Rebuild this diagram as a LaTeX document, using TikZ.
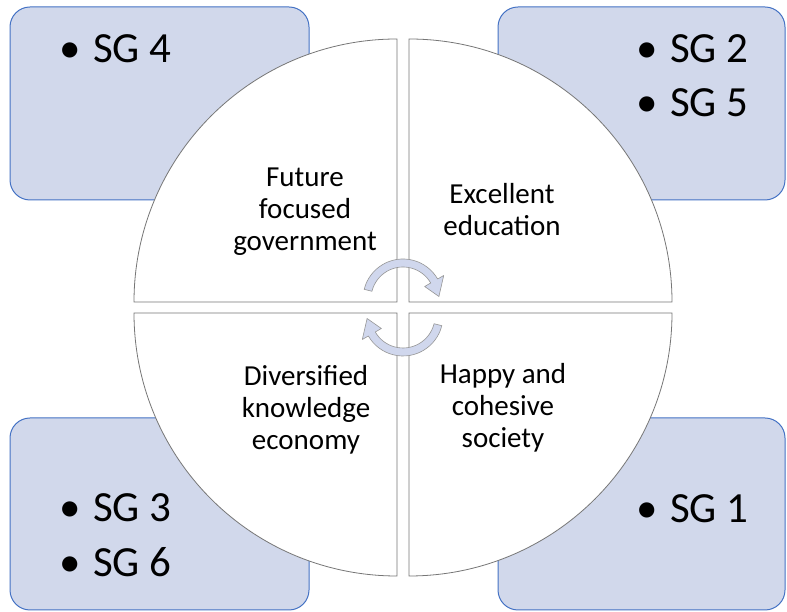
\documentclass[tikz,border=0pt]{standalone}
\usepackage{fontspec}
\setmainfont{Carlito}
\definecolor{boxfill}{RGB}{209,216,235}
\definecolor{boxline}{RGB}{68,114,196}
\definecolor{qline}{RGB}{118,118,118}
\definecolor{arrfill}{RGB}{208,215,237}
\definecolor{arrline}{RGB}{150,150,150}
\newcommand\bitem[1]{\makebox[34pt][l]{•}#1}
\begin{document}
\begin{tikzpicture}[x=1pt,y=1pt,
  box/.style={draw=boxline, fill=boxfill, line width=1pt, rounded corners=20pt, inner sep=0pt},
  quad/.style={draw=qline, fill=white, line width=0.8pt},
  lbl/.style={align=center, font=\fontsize{29}{32}\selectfont, inner sep=0pt},
  bul/.style={anchor=base west, inner sep=0pt, font=\fontsize{43}{52}\selectfont},
  arr/.style={draw=arrline, fill=arrfill, line width=0.6pt, line join=round},
  cyc/.pic={
    \path[arr] (166:40) arc[start angle=166, end angle=30, radius=40]
      -- (30:47) -- (4:36) -- (30:25) -- (30:32)
      arc[start angle=30, end angle=166, radius=32] -- cycle;
  }]
\useasboundingbox (0,0) rectangle (787,612);
% corner boxes
\node[box, minimum width=299pt, minimum height=193pt] (tlbox) at (159.5,508.5) {};
\node[box, minimum width=287pt, minimum height=193pt] (trbox) at (641.5,508.5) {};
\node[box, minimum width=299pt, minimum height=192pt] (blbox) at (159.5,98) {};
\node[box, minimum width=287pt, minimum height=192pt] (brbox) at (641.5,98) {};
% quadrants
\path[quad] (397,310) -- ++(-263,0) arc[start angle=180, end angle=90, radius=263] -- cycle;
\path[quad] (409,310) -- ++(263,0) arc[start angle=0, end angle=90, radius=263] -- cycle;
\path[quad] (397,299) -- ++(-263,0) arc[start angle=180, end angle=270, radius=263] -- cycle;
\path[quad] (409,299) -- ++(263,0) arc[start angle=0, end angle=-90, radius=263] -- cycle;
% cycle arrows
\pic (arrtop) at (403,313) {cyc};
\pic[rotate=180] (arrbot) at (403,296) {cyc};
% quadrant labels
\node[lbl] (qtl) at (305,400) {Future\\focused\\government};
\node[lbl] (qtr) at (502,402) {Excellent\\education};
\node[lbl] (qbl) at (306,202) {Diversified\\knowledge\\economy};
\node[lbl] (qbr) at (503,204) {Happy and\\cohesive\\society};
% bullets
\node[bul] (sg4) at (59,549) {\bitem{SG 4}};
\node[bul] (sg2) at (636,549) {\bitem{SG 2}};
\node[bul] (sg5) at (636,495) {\bitem{SG 5}};
\node[bul] (sg3) at (59,90) {\bitem{SG 3}};
\node[bul] (sg6) at (59,35) {\bitem{SG 6}};
\node[bul] (sg1) at (636,89) {\bitem{SG 1}};
\end{tikzpicture}
\end{document}
